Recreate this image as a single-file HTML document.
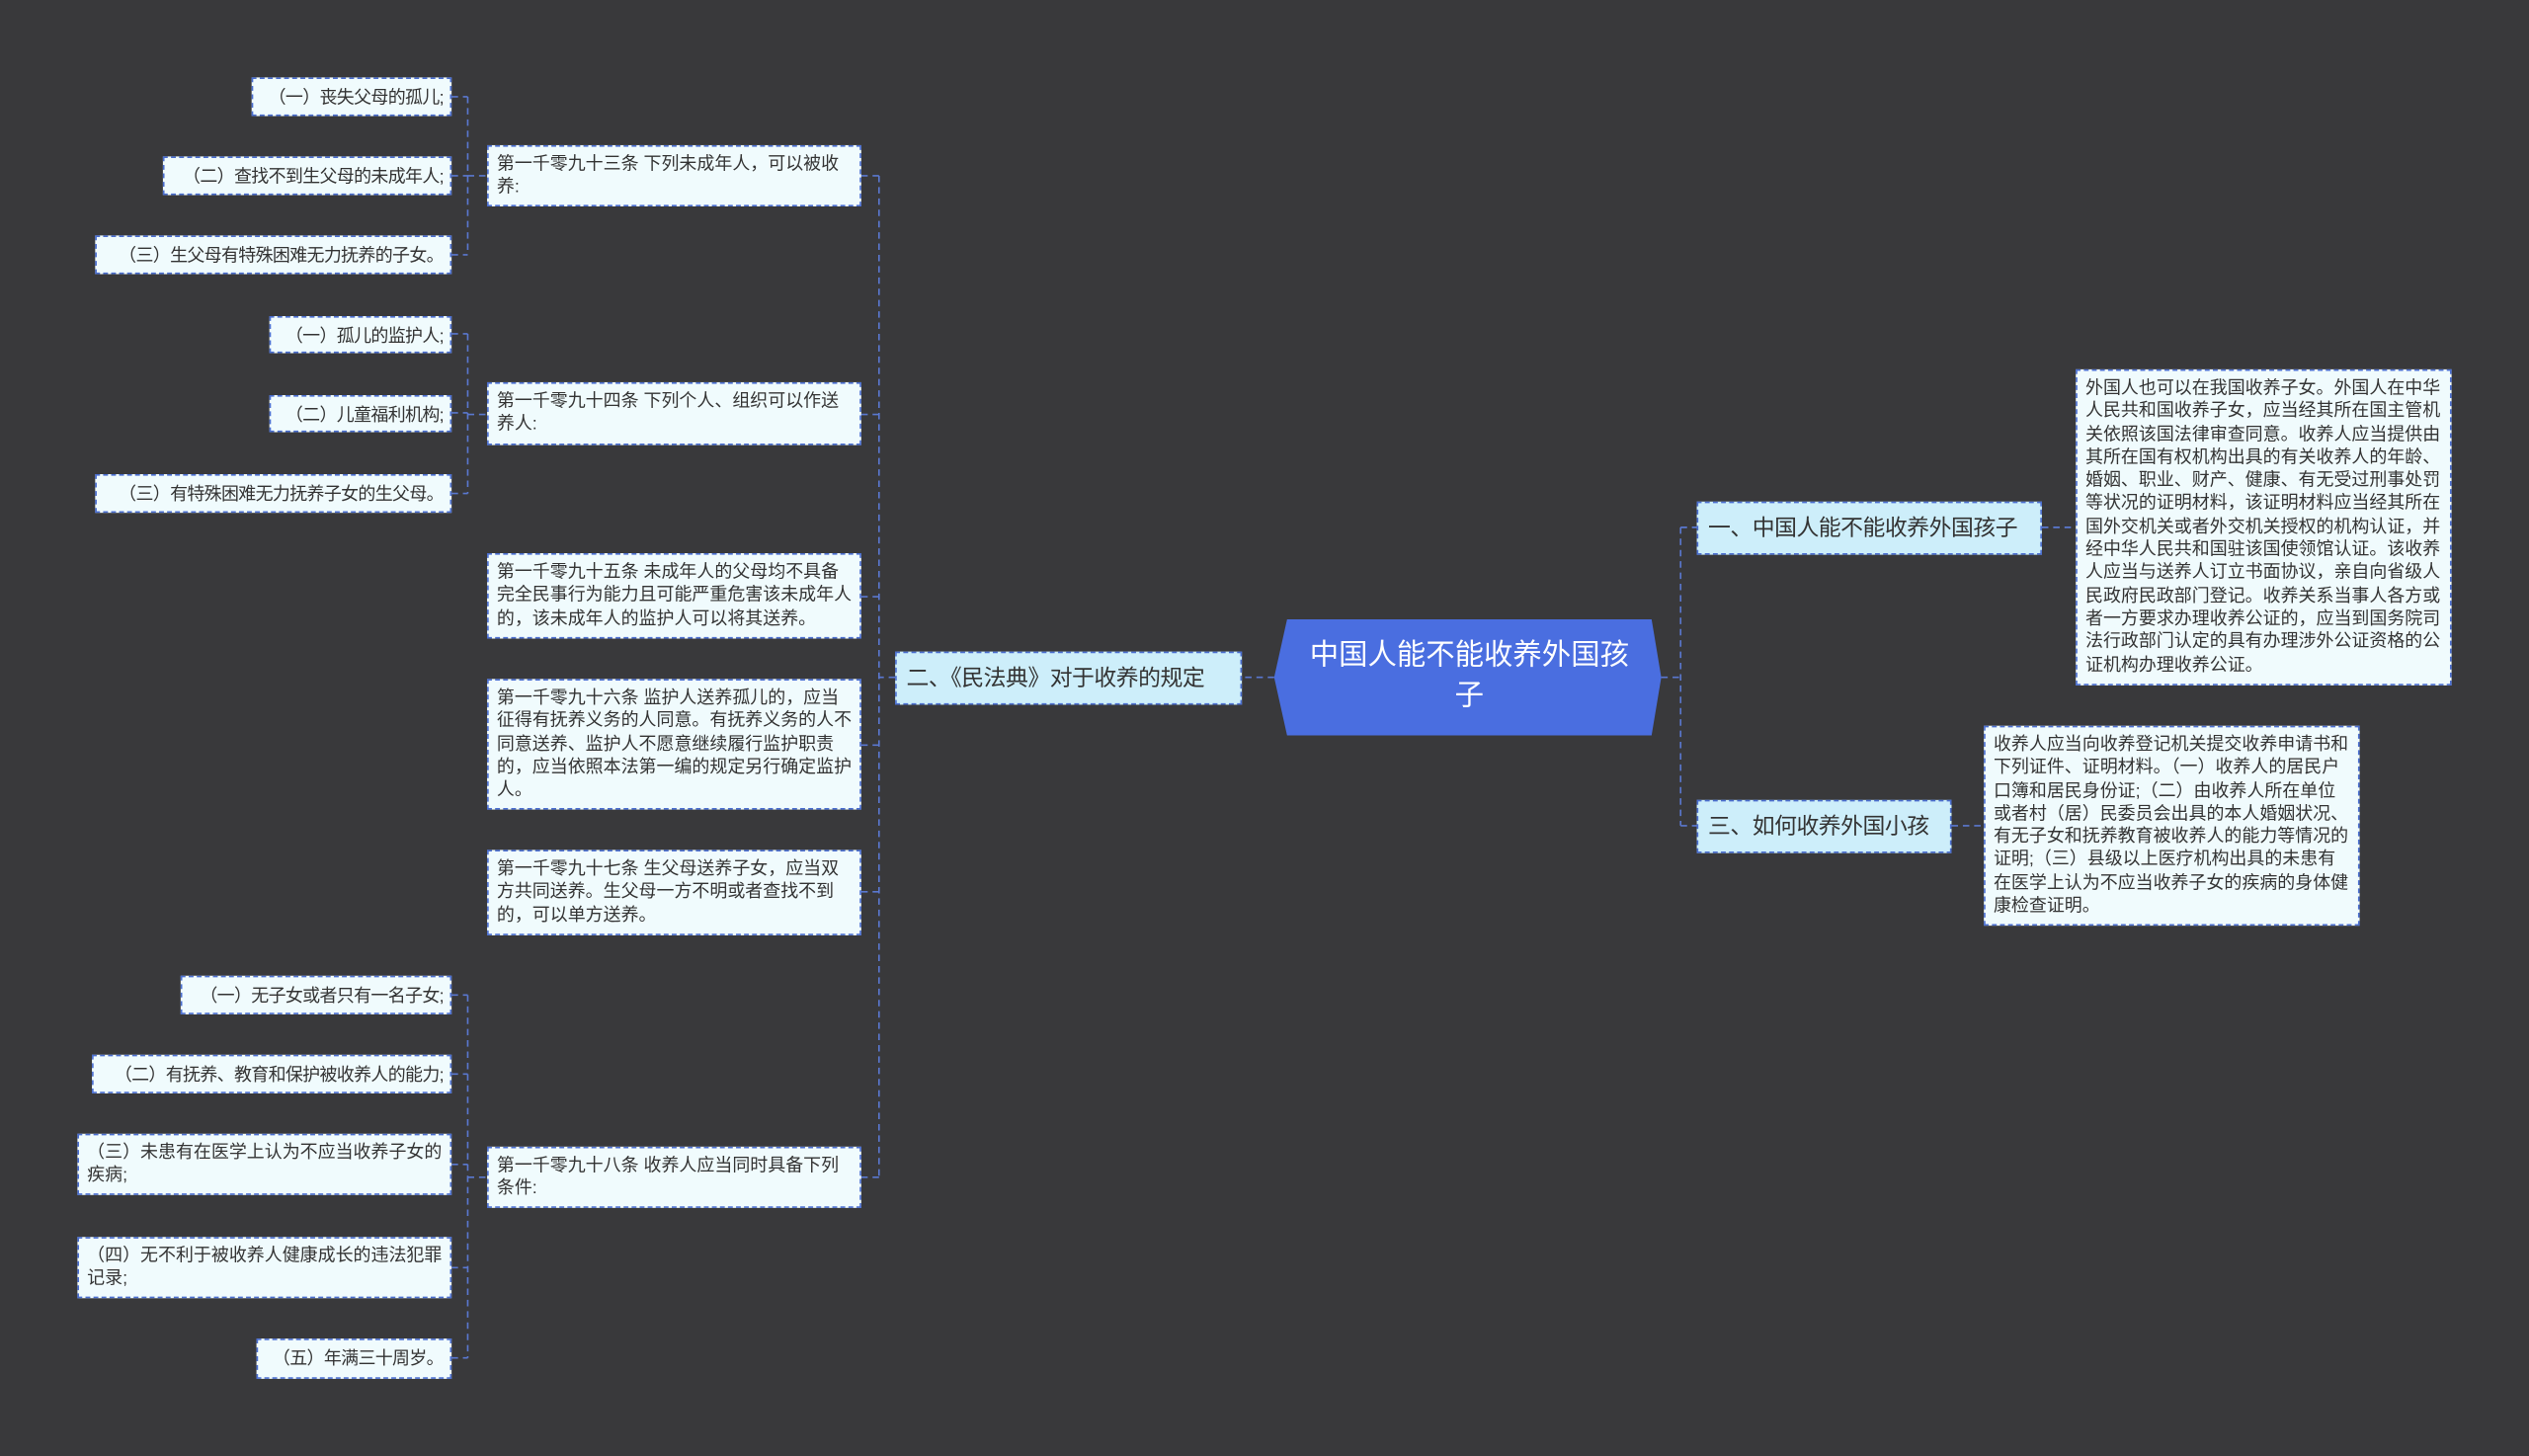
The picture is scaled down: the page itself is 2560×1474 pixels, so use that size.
<!DOCTYPE html>
<html><head><meta charset="utf-8"><style>
html,body{margin:0;padding:0;background:#39393b;}
body{width:2560px;height:1474px;overflow:hidden;position:relative;}
#w{position:absolute;left:0;top:0;width:1568px;height:903px;transform:scale(1.63265);transform-origin:0 0;font-family:"Liberation Sans","Noto Sans CJK SC",sans-serif;}
.b{position:absolute;box-sizing:border-box;background:#f0fbfd;border:1px dashed #4a6ed0;color:#333;font-size:11px;line-height:14.3px;padding:4px 5px;}
.r{text-align:right;padding:5px 4px 0 0;white-space:nowrap;letter-spacing:-0.4px;}
.m{background:#cdeefa;font-size:14px;line-height:30px;padding:0 6px;color:#333;white-space:nowrap;letter-spacing:-0.3px;}
svg{position:absolute;left:0;top:0;}
</style></head><body><div id="w">
<svg width="1568" height="903"><g stroke="#5a78d0" stroke-width="1" stroke-dasharray="4,3" fill="none">
<path d="M1030 420H1042M1042 327V512M1042 327H1052M1042 512H1052M1266 327H1287M1210 512H1230"/>
<path d="M790 420H770M555 420H545M545 109V730M534 109H545M534 257H545M534 370H545M534 462H545M534 553H545M534 730H545"/>
<path d="M280 60H290M280 109H290M280 158H290M290 60V158M290 109H302"/>
<path d="M280 207H290M280 256H290M280 306H290M290 207V306M290 257H302"/>
<path d="M280 617H290M280 666H290M280 722H290M280 786H290M280 842H290M290 617V842M290 730H302"/>
</g></svg>
<svg width="1568" height="903"><polygon points="798,384 1024,384 1030,420 1024,456 798,456 790,420" fill="#4a6ee0"/></svg>
<div style="position:absolute;left:795px;top:394px;width:232px;text-align:center;color:#fff;font-size:18px;line-height:25px;">中国人能不能收养外国孩<br>子</div>
<div class="b m" style="left:1052px;top:311px;width:214px;height:33px;">一、中国人能不能收养外国孩子</div>
<div class="b m" style="left:1052px;top:496px;width:158px;height:33px;">三、如何收养外国小孩</div>
<div class="b m" style="left:555px;top:404px;width:215px;height:33px;">二、《民法典》对于收养的规定</div>
<div class="b" style="left:1287px;top:229px;width:233px;height:196px;">外国人也可以在我国收养子女。外国人在中华人民共和国收养子女，应当经其所在国主管机关依照该国法律审查同意。收养人应当提供由其所在国有权机构出具的有关收养人的年龄、婚姻、职业、财产、健康、有无受过刑事处罚等状况的证明材料，该证明材料应当经其所在国外交机关或者外交机关授权的机构认证，并经中华人民共和国驻该国使领馆认证。该收养人应当与送养人订立书面协议，亲自向省级人民政府民政部门登记。收养关系当事人各方或者一方要求办理收养公证的，应当到国务院司法行政部门认定的具有办理涉外公证资格的公证机构办理收养公证。</div>
<div class="b" style="left:1230px;top:450px;width:233px;height:124px;">收养人应当向收养登记机关提交收养申请书和下列证件、证明材料。（一）收养人的居民户口簿和居民身份证;（二）由收养人所在单位或者村（居）民委员会出具的本人婚姻状况、有无子女和抚养教育被收养人的能力等情况的证明;（三）县级以上医疗机构出具的未患有在医学上认为不应当收养子女的疾病的身体健康检查证明。</div>
<div class="b" style="left:302px;top:90px;width:232px;height:38px;">第一千零九十三条 下列未成年人，可以被收养:</div>
<div class="b" style="left:302px;top:237px;width:232px;height:39px;">第一千零九十四条 下列个人、组织可以作送养人:</div>
<div class="b" style="left:302px;top:343px;width:232px;height:53px;">第一千零九十五条 未成年人的父母均不具备完全民事行为能力且可能严重危害该未成年人的，该未成年人的监护人可以将其送养。</div>
<div class="b" style="left:302px;top:421px;width:232px;height:81px;">第一千零九十六条 监护人送养孤儿的，应当征得有抚养义务的人同意。有抚养义务的人不同意送养、监护人不愿意继续履行监护职责的，应当依照本法第一编的规定另行确定监护人。</div>
<div class="b" style="left:302px;top:527px;width:232px;height:53px;">第一千零九十七条 生父母送养子女，应当双方共同送养。生父母一方不明或者查找不到的，可以单方送养。</div>
<div class="b" style="left:302px;top:711px;width:232px;height:38px;">第一千零九十八条 收养人应当同时具备下列条件:</div>
<div class="b r" style="left:156px;top:48px;width:124px;height:24px;">（一）丧失父母的孤儿;</div>
<div class="b r" style="left:101px;top:97px;width:179px;height:24px;">（二）查找不到生父母的未成年人;</div>
<div class="b r" style="left:59px;top:146px;width:221px;height:24px;">（三）生父母有特殊困难无力抚养的子女。</div>
<div class="b r" style="left:167px;top:196px;width:113px;height:23px;">（一）孤儿的监护人;</div>
<div class="b r" style="left:167px;top:245px;width:113px;height:23px;">（二）儿童福利机构;</div>
<div class="b r" style="left:59px;top:294px;width:221px;height:24px;">（三）有特殊困难无力抚养子女的生父母。</div>
<div class="b r" style="left:112px;top:605px;width:168px;height:24px;">（一）无子女或者只有一名子女;</div>
<div class="b r" style="left:57px;top:654px;width:223px;height:24px;">（二）有抚养、教育和保护被收养人的能力;</div>
<div class="b" style="left:48px;top:703px;width:232px;height:38px;">（三）未患有在医学上认为不应当收养子女的疾病;</div>
<div class="b" style="left:48px;top:767px;width:232px;height:38px;">（四）无不利于被收养人健康成长的违法犯罪记录;</div>
<div class="b r" style="left:159px;top:830px;width:121px;height:25px;">（五）年满三十周岁。</div>
</div></body></html>
